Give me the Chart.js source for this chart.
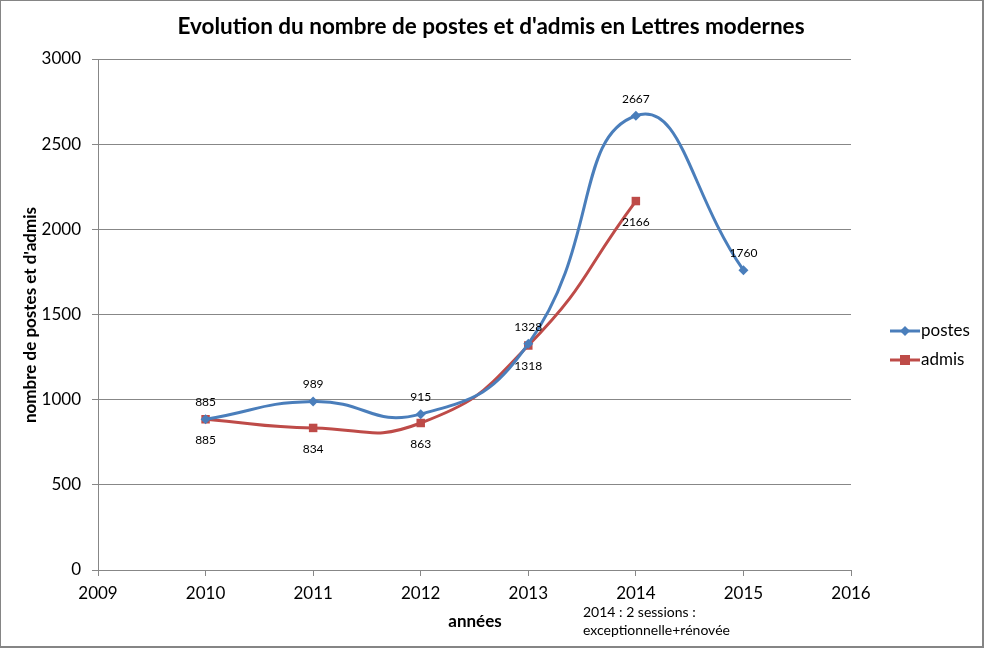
<!DOCTYPE html>
<html><head><meta charset="utf-8">
<script src="https://cdn.jsdelivr.net/npm/chart.js@4/dist/chart.umd.min.js"></script>
<style>html,body{margin:0;padding:0;background:#fff;}#wrap{width:984px;height:650px;position:relative;}</style>
</head><body><div id="wrap"><canvas id="c" width="984" height="650"></canvas></div>
<script>
const years = [2010, 2011, 2012, 2013, 2014, 2015];
const postes = [885, 989, 915, 1328, 2667, 1760];
const admisYears = [2010, 2011, 2012, 2013, 2014];
const admis = [885, 834, 863, 1318, 2166];
const yTicks = [0, 500, 1000, 1500, 2000, 2500, 3000];
const xTicks = [2009, 2010, 2011, 2012, 2013, 2014, 2015, 2016];
const titleText = "Evolution du nombre de postes et d'admis en Lettres modernes";
const yTitle = "nombre de postes et d'admis";
const xTitle = "années";
const noteLines = ["2014 : 2 sessions :", "exceptionnelle+rénovée"];
const seriesNames = ["postes", "admis"];

const FONT = "Lato, 'Open Sans', sans-serif";
const BLUE = '#4A7EBB', RED = '#BE4B48', GRID = '#878787';

const decor = {
  id: 'decor',
  afterDatasetsDraw(chart) {
    const ctx = chart.ctx;
    ctx.save();
    // data labels
    ctx.font = '12px ' + FONT;
    ctx.fillStyle = '#000';
    ctx.textAlign = 'center';
    ctx.textBaseline = 'middle';
    chart.getDatasetMeta(0).data.forEach((pt, i) => {
      ctx.fillText(String(postes[i]), pt.x, pt.y - 17);
    });
    chart.getDatasetMeta(1).data.forEach((pt, i) => {
      ctx.fillText(String(admis[i]), pt.x, pt.y + 21);
    });
    // title
    ctx.font = 'bold 22.5px ' + FONT;
    ctx.fillText(titleText, 491, 27);
    // axis titles
    ctx.font = 'bold 17px ' + FONT;
    ctx.fillText(xTitle, 475, 622);
    ctx.save();
    ctx.translate(31, 315);
    ctx.rotate(-Math.PI / 2);
    ctx.fillText(yTitle, 0, 0);
    ctx.restore();
    // note
    ctx.font = '14px ' + FONT;
    ctx.textAlign = 'left';
    ctx.fillText(noteLines[0], 583, 612);
    ctx.fillText(noteLines[1], 583, 630);
    // legend
    const ly = [331, 360];
    const cols = [BLUE, RED];
    ctx.font = '17px ' + FONT;
    for (let i = 0; i < 2; i++) {
      ctx.strokeStyle = cols[i];
      ctx.lineWidth = 3;
      ctx.beginPath(); ctx.moveTo(890, ly[i]); ctx.lineTo(920, ly[i]); ctx.stroke();
      ctx.fillStyle = cols[i];
      if (i === 0) {
        ctx.beginPath(); ctx.moveTo(905, ly[i] - 5); ctx.lineTo(910, ly[i]); ctx.lineTo(905, ly[i] + 5); ctx.lineTo(900, ly[i]); ctx.closePath(); ctx.fill();
      } else {
        ctx.fillRect(900, ly[i] - 5, 10, 10);
      }
      ctx.fillStyle = '#000';
      ctx.fillText(seriesNames[i], 921, ly[i]);
    }
    // frame
    ctx.strokeStyle = '#858585';
    ctx.lineWidth = 2;
    ctx.strokeRect(0, 0, 983, 647);
    ctx.restore();
  }
};

new Chart(document.getElementById('c'), {
  type: 'line',
  data: {
    datasets: [
      { label: seriesNames[0], data: years.map((x, i) => ({x, y: postes[i]})),
        borderColor: BLUE, backgroundColor: BLUE, borderWidth: 3, tension: 0.5,
        pointStyle: 'rectRot', pointRadius: 5, pointHoverRadius: 5, pointBorderWidth: 0 },
      { label: seriesNames[1], data: admisYears.map((x, i) => ({x, y: admis[i]})),
        borderColor: RED, backgroundColor: RED, borderWidth: 3, tension: 0.5,
        pointStyle: 'rect', pointRadius: 6, pointHoverRadius: 6, pointBorderWidth: 0 }
    ]
  },
  options: {
    responsive: false, animation: false,
    events: [],
    layout: { padding: { top: 59, left: 0, right: 133, bottom: 0 } },
    plugins: { legend: { display: false }, title: { display: false }, tooltip: { enabled: false } },
    scales: {
      x: {
        type: 'linear', min: 2009, max: 2016,
        afterBuildTicks: s => { s.ticks = xTicks.map(v => ({ value: v })); },
        afterFit: s => { s.height = 80; },
        grid: { drawOnChartArea: false, drawTicks: true, tickLength: 6, color: GRID },
        border: { color: GRID, width: 1 },
        ticks: { color: '#000', font: { size: 17, family: FONT }, padding: 7, callback: v => String(v), maxRotation: 0 }
      },
      y: {
        min: 0, max: 3000,
        afterBuildTicks: s => { s.ticks = yTicks.map(v => ({ value: v })); },
        afterFit: s => { s.width = 98; },
        grid: { color: GRID, drawTicks: true, tickLength: 6 },
        border: { color: GRID, width: 1 },
        ticks: { color: '#000', font: { size: 17, family: FONT }, padding: 11, callback: v => String(v) }
      }
    }
  },
  plugins: [decor]
});
</script></body></html>
